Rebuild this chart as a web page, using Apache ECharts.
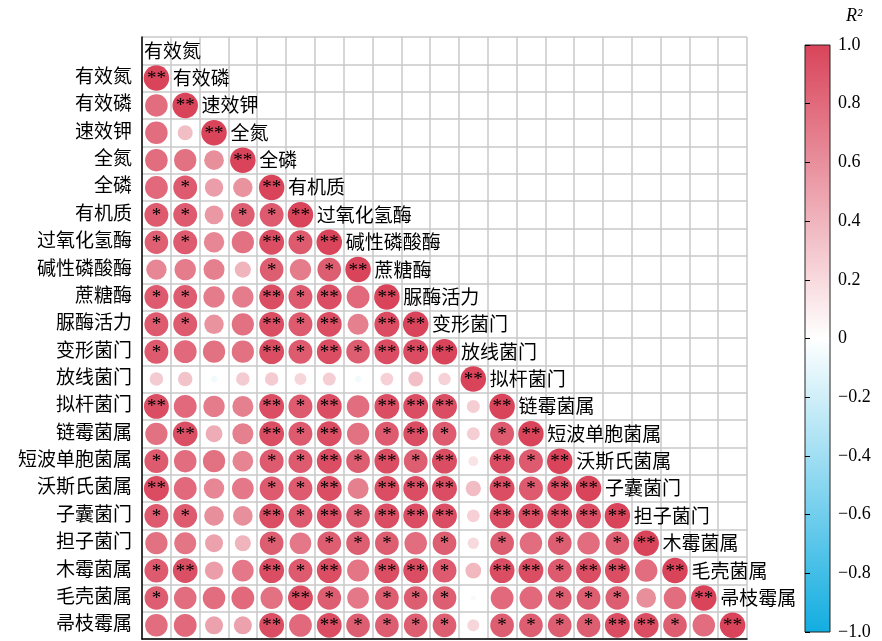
<!DOCTYPE html>
<html>
<head>
<meta charset="utf-8">
<script src="https://cdn.jsdelivr.net/npm/echarts@6/dist/echarts.min.js"></script>
<style>
  html, body { margin: 0; padding: 0; background: #fff; }
  #chart { width: 882px; height: 641px; }
</style>
</head>
<body>
<div id="chart"></div>
<script>
// Variable names (soil properties, enzymes, microbial taxa)
const names = ['有效氮', '有效磷', '速效钾', '全氮', '全磷', '有机质', '过氧化氢酶', '碱性磷酸酶',
  '蔗糖酶', '脲酶活力', '变形菌门', '放线菌门', '拟杆菌门', '链霉菌属', '短波单胞菌属',
  '沃斯氏菌属', '子囊菌门', '担子菌门', '木霉菌属', '毛壳菌属', '帚枝霉属'];

// Lower-triangle correlation coefficients, row i holds columns 0..i
const corr = [
  [1],
  [0.78, 1],
  [0.78, 0.35, 1],
  [0.78, 0.76, 0.60, 1],
  [0.80, 0.88, 0.52, 0.58, 1],
  [0.88, 0.88, 0.55, 0.86, 0.88, 1],
  [0.85, 0.88, 0.64, 0.76, 0.95, 0.88, 1],
  [0.64, 0.70, 0.68, 0.40, 0.86, 0.70, 0.86, 1],
  [0.88, 0.87, 0.70, 0.70, 0.95, 0.88, 0.95, 0.80, 1],
  [0.88, 0.88, 0.58, 0.76, 0.95, 0.88, 0.95, 0.68, 0.96, 1],
  [0.88, 0.80, 0.76, 0.76, 0.95, 0.88, 0.95, 0.86, 0.96, 0.96, 1],
  [0.28, 0.32, -0.06, 0.28, 0.28, 0.22, 0.26, -0.06, 0.25, 0.34, 0.24, 1],
  [0.95, 0.80, 0.70, 0.68, 0.95, 0.88, 0.95, 0.78, 0.95, 0.95, 0.95, 0.26, 1],
  [0.76, 0.94, 0.44, 0.68, 0.95, 0.88, 0.95, 0.76, 0.88, 0.95, 0.88, 0.26, 0.88, 1],
  [0.88, 0.78, 0.76, 0.66, 0.88, 0.88, 0.95, 0.86, 0.95, 0.86, 0.95, 0.15, 0.95, 0.88, 1],
  [0.96, 0.80, 0.64, 0.72, 0.88, 0.88, 0.95, 0.68, 0.95, 0.95, 0.95, 0.36, 0.95, 0.88, 0.95, 1],
  [0.88, 0.88, 0.60, 0.60, 0.95, 0.88, 0.95, 0.86, 0.95, 0.95, 0.95, 0.25, 0.95, 0.95, 0.95, 0.95, 1],
  [0.76, 0.74, 0.50, 0.40, 0.86, 0.72, 0.86, 0.86, 0.86, 0.78, 0.86, 0.20, 0.86, 0.78, 0.86, 0.78, 0.86, 1],
  [0.88, 0.94, 0.52, 0.72, 0.95, 0.88, 0.95, 0.74, 0.95, 0.95, 0.88, 0.38, 0.95, 0.95, 0.88, 0.95, 0.95, 0.78, 1],
  [0.86, 0.78, 0.78, 0.80, 0.76, 0.95, 0.86, 0.72, 0.86, 0.86, 0.86, 0.04, 0.80, 0.80, 0.86, 0.86, 0.86, 0.60, 0.78, 1],
  [0.78, 0.80, 0.50, 0.50, 0.95, 0.80, 0.95, 0.86, 0.86, 0.86, 0.86, 0.22, 0.86, 0.86, 0.86, 0.86, 0.95, 0.95, 0.86, 0.78, 1]
];

// Significance marks for the same cells
const sig = [
  ['**'],
  ['', '**'],
  ['', '', '**'],
  ['', '', '', '**'],
  ['', '*', '', '', '**'],
  ['*', '*', '', '*', '*', '**'],
  ['*', '*', '', '', '**', '*', '**'],
  ['', '', '', '', '*', '', '*', '**'],
  ['*', '*', '', '', '**', '*', '**', '', '**'],
  ['*', '*', '', '', '**', '*', '**', '', '**', '**'],
  ['*', '', '', '', '**', '*', '**', '*', '**', '**', '**'],
  ['', '', '', '', '', '', '', '', '', '', '', '**'],
  ['**', '', '', '', '**', '*', '**', '', '**', '**', '**', '', '**'],
  ['', '**', '', '', '**', '*', '**', '', '*', '**', '*', '', '*', '**'],
  ['*', '', '', '', '*', '*', '**', '*', '**', '*', '**', '', '**', '*', '**'],
  ['**', '', '', '', '*', '*', '**', '', '**', '**', '**', '', '**', '*', '**', '**'],
  ['*', '*', '', '', '**', '*', '**', '*', '**', '**', '**', '', '**', '**', '**', '**', '**'],
  ['', '', '', '', '*', '', '*', '*', '*', '', '*', '', '*', '', '*', '', '*', '**'],
  ['*', '**', '', '', '**', '*', '**', '', '**', '**', '*', '', '**', '**', '*', '**', '**', '', '**'],
  ['*', '', '', '', '', '**', '*', '', '*', '*', '*', '', '', '', '*', '*', '*', '', '', '**'],
  ['', '', '', '', '**', '', '**', '*', '*', '*', '*', '', '*', '*', '*', '*', '**', '**', '*', '', '**']
];

// Colour bar ticks
const barMin = -1, barMax = 1, barStep = 0.2;

const RED = '#D9445A', WHITE = '#FFFFFF', BLUE = '#12ADE0';
const serif = "'Liberation Serif', 'Times New Roman', 'Noto Sans CJK SC', serif";

// y categories: a blank top row holds the first diagonal name
const yCats = [''].concat(names);

const cells = [];
corr.forEach((row, i) => {
  row.forEach((v, c) => {
    cells.push({ value: [c, i + 1, v], star: sig[i][c] });
  });
});

const diagLabels = names.map((n, j) => [j, j]);

const chart = echarts.init(document.getElementById('chart'), null, { renderer: 'canvas' });

chart.setOption({
  animation: false,
  backgroundColor: '#fff',
  grid: [
    { left: 142, top: 37, width: 605, height: 602, containLabel: false },
    {
      left: 805, top: 45, width: 25, height: 588, show: true,
      borderColor: '#222', borderWidth: 1,
      backgroundColor: new echarts.graphic.LinearGradient(0, 0, 0, 1, [
        { offset: 0, color: RED }, { offset: 0.5, color: WHITE }, { offset: 1, color: BLUE }
      ])
    }
  ],
  xAxis: [
    {
      gridIndex: 0, type: 'category', data: names, boundaryGap: true,
      axisLine: { show: true, lineStyle: { color: '#000', width: 1.5 } },
      axisTick: { show: false }, axisLabel: { show: false },
      splitLine: { show: true, interval: 0, lineStyle: { color: '#c8c8c8', width: 1.5 } }
    },
    { gridIndex: 1, type: 'value', min: 0, max: 1, show: false }
  ],
  yAxis: [
    {
      gridIndex: 0, type: 'category', data: yCats, inverse: true, boundaryGap: true,
      axisLine: { show: true, lineStyle: { color: '#000', width: 1.5 } },
      axisTick: { show: false },
      axisLabel: { show: true, interval: 0, margin: 10, color: '#000', fontSize: 19, fontFamily: serif },
      splitLine: { show: true, interval: 0, lineStyle: { color: '#c8c8c8', width: 1.5 } }
    },
    {
      gridIndex: 1, type: 'value', min: barMin, max: barMax, interval: barStep, position: 'right',
      axisLine: { show: false },
      axisTick: { show: true, length: 5, lineStyle: { color: '#000', width: 1 } },
      splitLine: { show: false },
      axisLabel: {
        show: true, margin: 8, color: '#000', fontSize: 18, fontFamily: serif,
        formatter: v => Math.abs(v) < 1e-9 ? '0' : (v < 0 ? '\u2212' : '') + Math.abs(v).toFixed(1)
      }
    }
  ],
  visualMap: {
    show: false, type: 'continuous', min: -1, max: 1, dimension: 2, seriesIndex: 0,
    inRange: { color: [BLUE, WHITE, RED] }
  },
  series: [
    {
      type: 'scatter', xAxisIndex: 0, yAxisIndex: 0, data: cells,
      symbol: 'circle',
      symbolSize: val => 25.5 * Math.sqrt(Math.abs(val[2])),
      itemStyle: { opacity: 1 },
      label: {
        show: true, position: 'inside', color: '#000', fontSize: 19, fontFamily: serif,
        offset: [0, 1],
        formatter: p => p.data.star
      },
      emphasis: { disabled: true },
      z: 3
    },
    {
      type: 'custom', xAxisIndex: 0, yAxisIndex: 0, data: diagLabels,
      renderItem: (params, api) => {
        const p = api.coord([api.value(0), api.value(1)]);
        const w = api.size([1, 1])[0];
        return {
          type: 'text',
          x: p[0] - w / 2 + 2,
          y: p[1] + 2,
          style: {
            text: names[params.dataIndex],
            fill: '#000',
            font: '19px ' + serif,
            textAlign: 'left',
            textVerticalAlign: 'middle'
          }
        };
      },
      z: 4
    },
    { type: 'scatter', xAxisIndex: 1, yAxisIndex: 1, data: [], silent: true }
  ],
  graphic: [
    {
      type: 'text', left: 846, top: 7,
      style: { text: 'R\u00B2', fill: '#000', font: 'italic 18px ' + serif }
    }
  ]
});
</script>
</body>
</html>
